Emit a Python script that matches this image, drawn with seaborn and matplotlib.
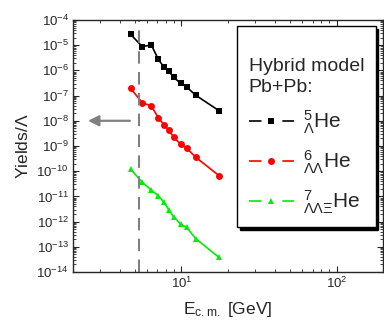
import numpy as np
import pandas as pd
import matplotlib
matplotlib.use("Agg")
import matplotlib.pyplot as plt
from matplotlib.lines import Line2D
from matplotlib.ticker import LogLocator, NullFormatter
import seaborn as sns

# ── Data ─────────────────────────────────────────────────────────────────────
ecm = [4.7, 5.6, 6.4, 7.1, 7.7, 8.3, 8.9, 9.9, 10.8, 12.4, 17.5]
he5 = [2.7e-5, 8.7e-6, 1.02e-5, 2.75e-6, 1.36e-6, 9.5e-7, 5.3e-7, 3.07e-7, 2.2e-7, 1.02e-7, 2.5e-8]
he6 = [1.95e-7, 5.2e-8, 3.9e-8, 1.33e-8, 7.0e-9, 4.2e-9, 2.27e-9, 1.16e-9, 8.3e-10, 3.55e-10, 6.65e-11]
he7 = [1.22e-10, 3.6e-11, 1.8e-11, 1.07e-11, 6.0e-12, 2.98e-12, 1.57e-12, 8.0e-13, 5.9e-13, 2.1e-13, 3.8e-14]

names  = ["he5", "he6", "he7"]
labels = [r"${}_{\Lambda}^{5}\mathrm{He}$",
          r"${}_{\Lambda\Lambda}^{6}\mathrm{He}$",
          r"${}_{\Lambda\Lambda\Xi}^{7}\mathrm{He}$"]
colors  = ["black", "#ff0000", "#00ee00"]
markers = ["s", "o", "^"]

threshold = 5.3        # dashed line
arrow_y   = 1e-8
arrow_x   = (4.85, 2.4)

df = pd.concat([pd.DataFrame({"ecm": ecm, "y": v, "nucl": n})
                for n, v in zip(names, [he5, he6, he7])], ignore_index=True)

# ── Style ────────────────────────────────────────────────────────────────────
sns.set_style("ticks")
plt.rcParams["font.family"] = ["Liberation Sans", "DejaVu Sans"]
plt.rcParams["mathtext.fontset"] = "custom"
plt.rcParams["mathtext.rm"] = "Liberation Sans"
plt.rcParams["mathtext.it"] = "Liberation Sans:italic"
plt.rcParams["mathtext.default"] = "regular"

fig = plt.figure(figsize=(3.84, 3.27), dpi=100)
ax = fig.add_axes([0.190, 0.168, 0.808, 0.771])

sns.lineplot(data=df, x="ecm", y="y", hue="nucl", style="nucl",
             palette=dict(zip(names, colors)), markers=dict(zip(names, markers)),
             dashes=False, markersize=5, markeredgewidth=0, linewidth=1.2,
             legend=False, ax=ax)

ax.set_xscale("log")
ax.set_yscale("log")
ax.set_xlim(2, 200)
ax.set_ylim(1e-14, 1e-4)

ax.yaxis.set_major_locator(LogLocator(base=10, numticks=20))
ax.yaxis.set_minor_locator(LogLocator(base=10, subs=np.arange(2, 10), numticks=200))
ax.xaxis.set_minor_locator(LogLocator(base=10, subs=np.arange(2, 10), numticks=200))
ax.yaxis.set_minor_formatter(NullFormatter())
ax.xaxis.set_minor_formatter(NullFormatter())
ax.tick_params(which="both", direction="in", top=True, right=True, labelsize=9.5, pad=3)
ax.tick_params(which="major", length=4)
ax.tick_params(which="minor", length=2)
for s in ax.spines.values():
    s.set_linewidth(1.0)

ax.set_xlabel(r"E$_{\rm c.m.}$ [GeV]", fontsize=12.5, labelpad=6)
ax.set_ylabel(r"Yields/$\Lambda$", fontsize=12.5, labelpad=4)

ax.axvline(threshold, color="gray", lw=1.5, dashes=(6, 4))
ax.annotate("", xy=(arrow_x[1], arrow_y), xytext=(arrow_x[0], arrow_y),
            arrowprops=dict(arrowstyle="-|>", color="gray", lw=1.6,
                            mutation_scale=16))

# legend handles: dash - marker - dash, like the original
handles = [Line2D([], [], color=c, marker=m, markersize=5, markeredgewidth=0,
                  lw=1.2, dashes=(7.5, 12.5))
           for c, m in zip(colors, markers)]
leg = ax.legend(handles, labels, title="\nHybrid model\nPb+Pb:",
                alignment="left", loc="upper left",
                bbox_to_anchor=(0.529, 0.976), borderaxespad=0,
                fontsize=15, title_fontsize=14, handlelength=2.2,
                handletextpad=0.4, labelspacing=0.6, borderpad=0.55,
                fancybox=False, framealpha=1, edgecolor="black",
                shadow={"color": "black", "alpha": 1})
leg.get_title().set_linespacing(1.3)
leg.get_frame().set_linewidth(1.0)

fig.savefig("out.png", dpi=100)
